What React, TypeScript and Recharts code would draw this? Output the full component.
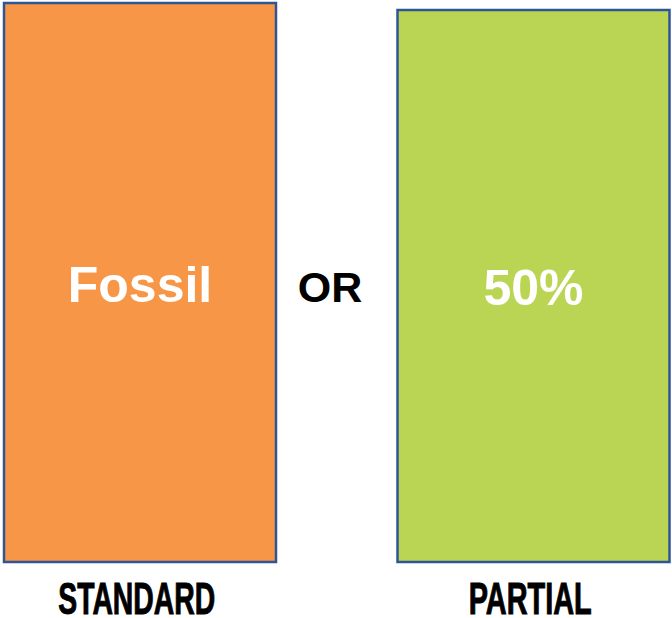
import { BarChart, Bar, XAxis, YAxis, Cell, LabelList } from 'recharts'

const categories = ['STANDARD', 'PARTIAL']
const values = [100, 98.75]
const barTexts = ['Fossil', '50%']
const COLORS = ['#f79646', '#b9d553']

const data = categories.map((name, i) => ({ name, value: values[i], text: barTexts[i] }))

const tickWidths: Record<string, number> = { STANDARD: 157, PARTIAL: 123 }

function CategoryTick(props: any) {
  const { x, y, payload } = props
  return (
    <text
      x={x - 3}
      y={y + 52}
      textAnchor="middle"
      fontFamily="'Liberation Sans Narrow', 'Liberation Sans', Arial, sans-serif"
      fontWeight="bold"
      fontSize={45}
      fill="#000"
      stroke="#000"
      strokeWidth={1}
      textLength={tickWidths[payload.value]}
      lengthAdjust="spacingAndGlyphs"
    >
      {payload.value}
    </text>
  )
}

function BarText(props: any) {
  const { x, y, width, height, value } = props
  return (
    <text
      x={x + width / 2}
      y={y + height / 2 + 19}
      textAnchor="middle"
      fontFamily="'Liberation Sans', Arial, sans-serif"
      fontWeight="bold"
      fontSize={50}
      fill="#fff"
    >
      {value}
    </text>
  )
}

export default function App() {
  return (
    <div style={{ position: 'absolute', left: 0, top: 0, width: 672, height: 618, background: '#fff' }}>
      <BarChart
        width={672}
        height={618}
        data={data}
        margin={{ top: 3, right: -58, bottom: 0, left: -57 }}
        barSize={272}
      >
        <XAxis
          dataKey="name"
          axisLine={false}
          tickLine={false}
          tickSize={0}
          tickMargin={0}
          height={56}
          tick={<CategoryTick />}
          interval={0}
        />
        <YAxis hide domain={[0, 100]} />
        <Bar dataKey="value" stroke="#2f5597" strokeWidth={2.5} isAnimationActive={false}>
          {data.map((_, i) => (
            <Cell key={i} fill={COLORS[i % COLORS.length]} />
          ))}
          <LabelList dataKey="text" content={<BarText />} />
        </Bar>
      </BarChart>
      <div
        style={{
          position: 'absolute',
          left: 280,
          width: 100,
          top: 262,
          textAlign: 'center',
          fontFamily: "'Liberation Sans', Arial, sans-serif",
          fontWeight: 'bold',
          fontSize: 43,
          lineHeight: '50px',
          color: '#000',
        }}
      >
        OR
      </div>
    </div>
  )
}
